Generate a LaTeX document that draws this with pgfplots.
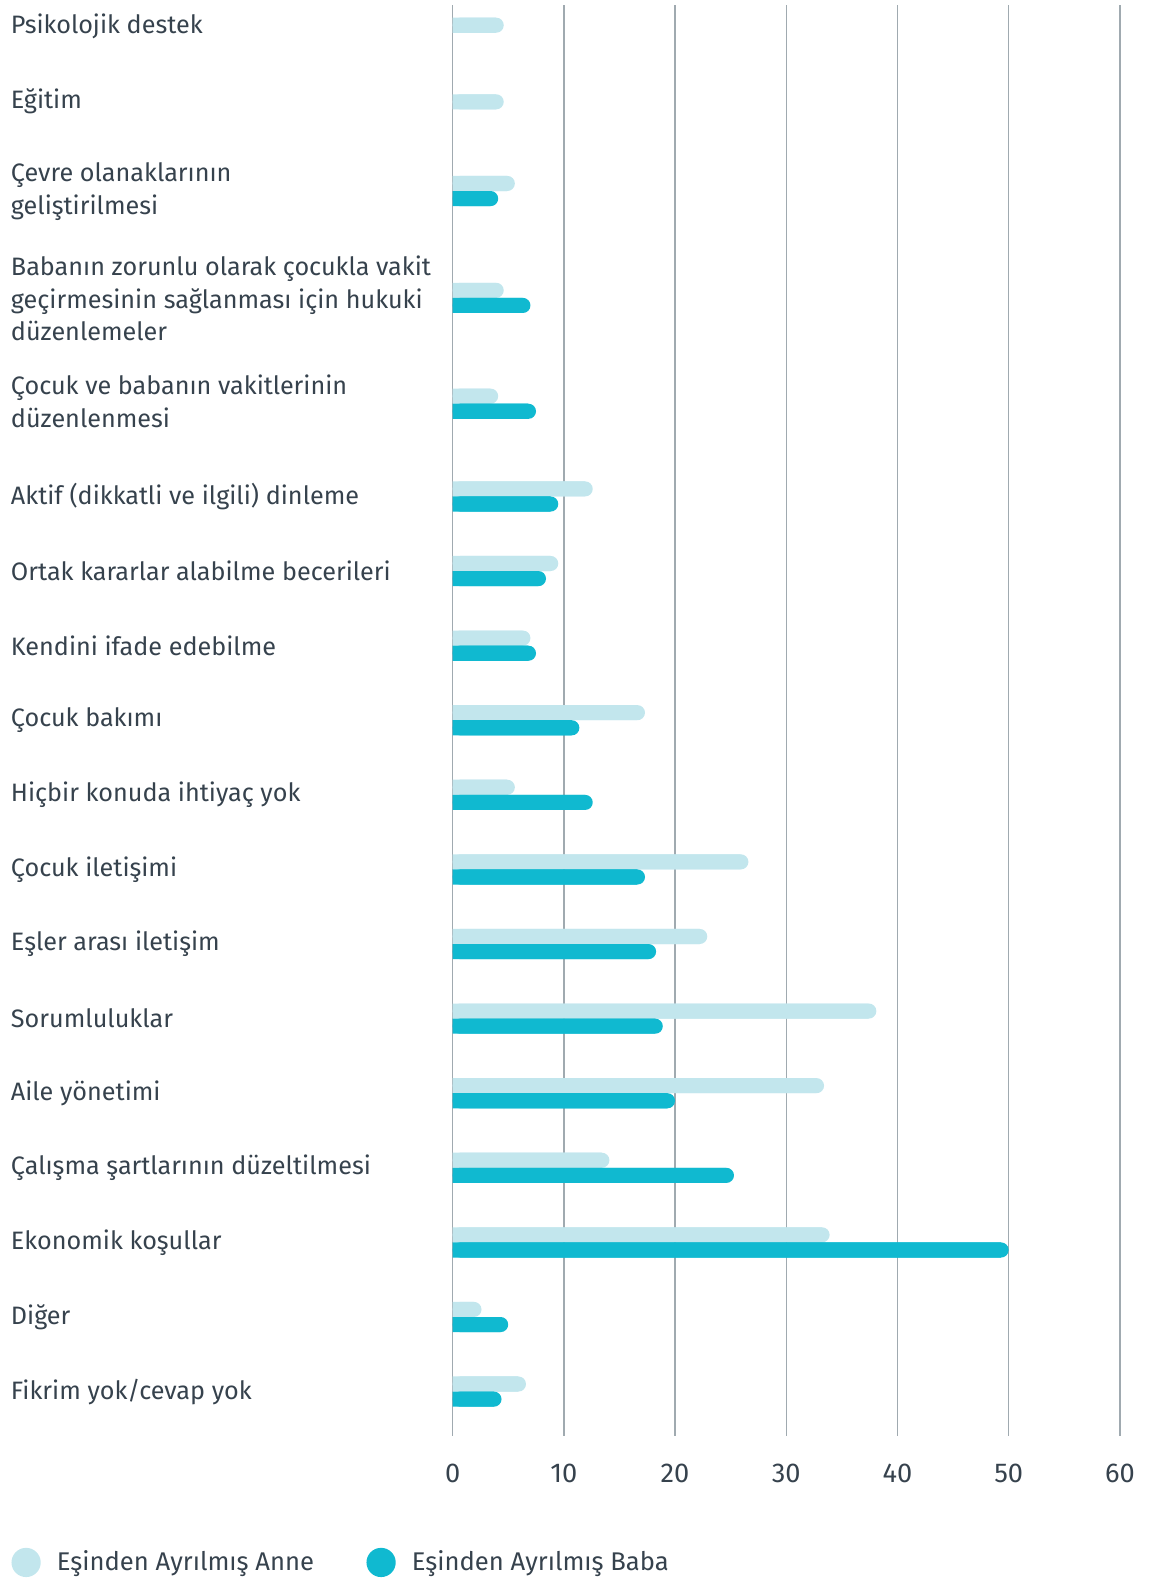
\documentclass[border=0pt]{standalone}
\usepackage{fontspec}
\setmainfont{Fira Sans}
\usepackage{pgfplots}
\usepackage{pgfplotstable}
\pgfplotsset{compat=1.18}

\definecolor{anne}{RGB}{194,230,237}
\definecolor{baba}{RGB}{16,185,208}
\definecolor{txt}{RGB}{54,66,77}
\definecolor{gridc}{RGB}{160,170,176}

% y = row position (from top), anne / baba = percent
\pgfplotstableread{
y      anne baba
32.5   4.6  nan
108.5  4.6  nan
189.5  5.6  4.1
295.5  4.6  7.0
400.5  4.1  7.5
492.5  12.6 9.5
566.5  9.5  8.4
640.5  7.0  7.5
714.5  17.3 11.4
788.5  5.6  12.6
862.5  26.6 17.3
936.5  22.9 18.3
1010.5 38.1 18.9
1084.5 33.4 20.0
1158.5 14.1 25.3
1232.5 33.9 50.0
1306.5 2.6  5.0
1380.5 6.6  4.4
}\data

\begin{document}
\begin{tikzpicture}
\begin{axis}[
    xbar, bar width=7.5pt,
    width=331pt, height=710pt, scale only axis,
    xmin=0, xmax=60, ymin=5, ymax=1425, y dir=reverse,
    xtick={0,10,...,60},
    xmajorgrids, major grid style={gridc, line width=0.7pt},
    axis line style={draw=none}, tick style={draw=none},
    ytick={26,100,190,296,398,492.5,566.5,640.5,714.5,788.5,862.5,936.5,1010.5,1084.5,1158.5,1232.5,1306.5,1380.5},
    yticklabels={
        Psikolojik destek,
        Eğitim,
        {Çevre olanaklarının\\geliştirilmesi},
        {Babanın zorunlu olarak çocukla vakit\\geçirmesinin sağlanması için hukuki\\düzenlemeler},
        {Çocuk ve babanın vakitlerinin\\düzenlenmesi},
        Aktif (dikkatli ve ilgili) dinleme,
        Ortak kararlar alabilme becerileri,
        Kendini ifade edebilme,
        Çocuk bakımı,
        Hiçbir konuda ihtiyaç yok,
        Çocuk iletişimi,
        Eşler arası iletişim,
        Sorumluluklar,
        Aile yönetimi,
        Çalışma şartlarının düzeltilmesi,
        Ekonomik koşullar,
        Diğer,
        Fikrim yok/cevap yok},
    yticklabel style={anchor=west, align=left, xshift=-215pt, inner sep=0pt,
        font=\fontsize{12.5}{16}\selectfont, text=txt},
    xticklabel style={font=\fontsize{13.5}{15}\selectfont, text=txt, yshift=-10pt},
    /pgf/number format/assume math mode=true,
    legend columns=2,
    legend image code/.code={\fill[#1] (7.25pt,0pt) circle (7.25pt);},
    legend style={draw=none, fill=none, at={(rel axis cs:0,0)}, anchor=west,
        xshift=-222pt, yshift=-62.5pt, font=\fontsize{12.7}{15}\selectfont,
        text=txt, /tikz/every odd column/.append style={column sep=6pt},
        /tikz/every even column/.append style={column sep=24pt}},
]
\addplot[fill=anne, draw=none, rounded corners=3.75pt, bar shift=3.75pt]
    table[x=anne, y=y]{\data};
\addplot[fill=anne, draw=none, bar shift=3.75pt, forget plot]
    table[x expr=\thisrow{anne}-0.7, y=y]{\data};
\addplot[fill=baba, draw=none, rounded corners=3.75pt, bar shift=-3.75pt]
    table[x=baba, y=y]{\data};
\addplot[fill=baba, draw=none, bar shift=-3.75pt, forget plot]
    table[x expr=\thisrow{baba}-0.7, y=y]{\data};
\legend{Eşinden Ayrılmış Anne, Eşinden Ayrılmış Baba}
\coordinate (O) at (rel axis cs:0,0);
\coordinate (T) at (rel axis cs:1,1);
\end{axis}
\path ([shift={(-224.5pt,-71.5pt)}]O) rectangle ([shift={(17.5pt,2.5pt)}]T);
\end{tikzpicture}
\end{document}
